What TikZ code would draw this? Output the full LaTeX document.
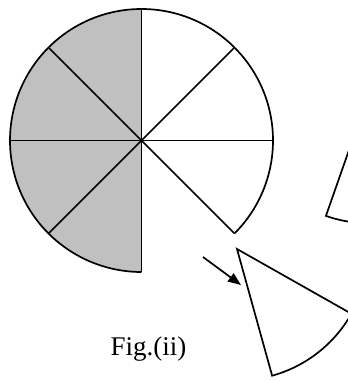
\documentclass[tikz,border=0pt]{standalone}
\usepackage{fontspec}
\setmainfont{Liberation Serif}
\usetikzlibrary{arrows.meta}
\definecolor{sectorgray}{RGB}{192,192,192}
\tikzset{
  edge/.style={line width=1.7pt, line join=miter},
  piece/.style={edge, fill=white},
  pointer/.style={line width=1.7pt, -{Triangle[length=13pt,width=10pt]}},
  caption/.style={font=\fontsize{27}{30}\selectfont, inner sep=0pt, anchor=base}
}
\begin{document}
\begin{tikzpicture}[x=1pt,y=1pt]
\useasboundingbox (0,0) rectangle (348,381);
\clip (0,0) rectangle (348,381);
\def\R{131.5}
\coordinate (C) at (141.5,240.5);
% shaded left half
\fill[sectorgray] (C) -- ++(90:\R) arc[start angle=90, end angle=270, radius=\R] -- cycle;
% outline of the circle with the missing sector
\draw[edge] (C) ++(-45:\R) arc[start angle=-45, end angle=270, radius=\R];
\foreach \a in {0,45,...,315}{
  \draw[edge] (C) -- ++(\a:\R);
}
\fill (C) circle (1.8pt);
% removed sector
\coordinate (A) at (237,132);
\draw[piece] (A) -- ++(-74.5:\R) arc[start angle=-74.5, end angle=-29.5, radius=\R] -- cycle;
% partial sector at right edge
\coordinate (B) at (369.4,289.2);
\draw[piece] (B) -- ++(-109.3:\R) arc[start angle=-109.3, end angle=-64.3, radius=\R] -- cycle;
% arrow
\coordinate (s) at (203,124);
\coordinate (t) at (241,96);
\draw[pointer] (s) -- (t);
% caption
\node[caption] (cap) at (148.5,26) {Fig.(ii)};
\end{tikzpicture}
\end{document}
